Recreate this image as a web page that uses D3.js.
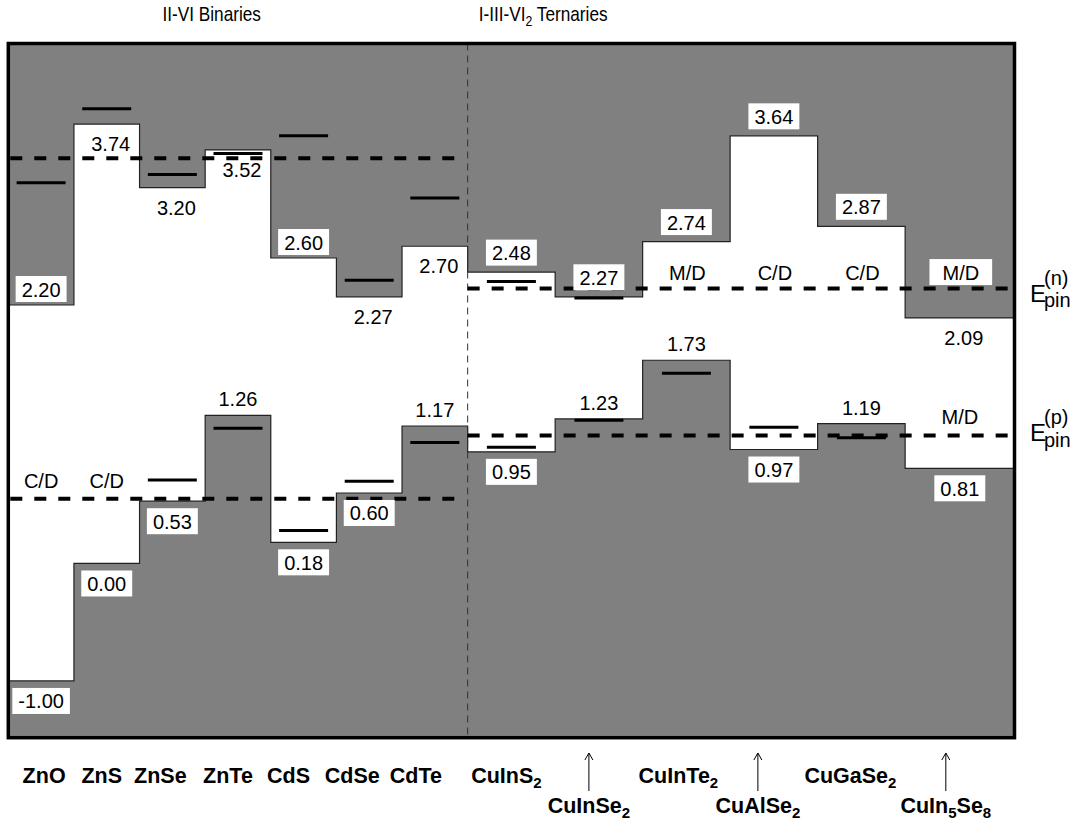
<!DOCTYPE html>
<html><head><meta charset="utf-8">
<script src="https://cdn.jsdelivr.net/npm/d3@7/dist/d3.min.js"></script>
<style>
body{margin:0;background:#fff}
text{font-family:"Liberation Sans",Arial,Helvetica,sans-serif}
</style>
</head><body>
<svg id="chart" width="1077" height="822"></svg>
<script>
// ---------------- data ----------------
const binaries  = ["ZnO","ZnS","ZnSe","ZnTe","CdS","CdSe","CdTe"];
const ternaries = ["CuInS2","CuInSe2","CuInTe2","CuAlSe2","CuGaSe2","CuIn5Se8"];
const materials = binaries.concat(ternaries);
const cbm    = [2.20, 3.74, 3.20, 3.52, 2.60, 2.27, 2.70, 2.48, 2.27, 2.74, 3.64, 2.87, 2.09];
const vbm    = [-1.00, 0.00, 0.53, 1.26, 0.18, 0.60, 1.17, 0.95, 1.23, 1.73, 0.97, 1.19, 0.81];
const nLevel = [3.24, 3.87, 3.31, 3.49, 3.64, 2.41, 3.11, 2.40, 2.26, null, null, null, null];
const pLevel = [null, null, 0.71, 1.15, 0.28, 0.70, 1.03, 0.99, 1.22, 1.62, 1.16, 1.07, null];
const nNote  = [null,null,null,null,null,null,null,null,null,"M/D","C/D","C/D","M/D"];
const pNote  = ["C/D","C/D",null,null,null,null,null,null,null,null,null,null,"M/D"];
const groupTitles = ["II-VI Binaries","I-III-VI2 Ternaries"];
const pinN = [3.45, 2.34];   // binaries, ternaries
const pinP = [0.55, 1.09];

// ---------------- layout (not data) ----------------
const cbmSide = [1,-1,-1,-1,1,-1,-1,1,1,1,1,1,-1];   // 1: label above step
const vbmSide = [-1,-1,-1,1,-1,-1,1,-1,1,1,-1,1,-1]; // -1: label below step
const nameDx  = [3,-5,-12,-10,-15,-17,-19,-5,-10,-8,-16,-11,-14];
const lowerRow = [false,false,false,false,false,false,false,false,true,false,true,false,true];

const svg = d3.select("#chart");
const x = d3.scaleLinear().domain([0,46]).range([8.3,1014.5]);
const y = d3.scaleLinear().domain([-1.483,4.426]).range([737.7,43.5]);
const nB = binaries.length;
const leftU  = i => i < nB ? 3*i : 3*nB + 4*(i-nB);
const rightU = i => i === materials.length-1 ? 46 : (i < nB ? 3*(i+1) : 3*nB + 4*(i-nB+1));
const cx = i => (x(leftU(i)) + x(rightU(i))) / 2;
const fmt = v => v.toFixed(2);
const GRAY = "#808080";

// background gray
svg.append("rect").attr("x",x(0)).attr("y",y(4.426)).attr("width",x(46)-x(0))
  .attr("height",y(-1.483)-y(4.426)).attr("fill",GRAY);

// white gap region
const pts = materials.map((m,i)=>({u:leftU(i), c:cbm[i], v:vbm[i]}));
pts.push({u:46, c:cbm[cbm.length-1], v:vbm[vbm.length-1]});
svg.append("path").datum(pts)
  .attr("d", d3.area().x(d=>x(d.u)).y0(d=>y(d.v)).y1(d=>y(d.c)).curve(d3.curveStepAfter))
  .attr("fill","#fff");
// step outlines
["c","v"].forEach(k=>{
  svg.append("path").datum(pts)
    .attr("d", d3.line().x(d=>x(d.u)).y(d=>y(d[k])).curve(d3.curveStepAfter))
    .attr("fill","none").attr("stroke","#222").attr("stroke-width",1.2);
});

// divider
svg.append("line").attr("x1",x(3*nB)).attr("x2",x(3*nB)).attr("y1",y(4.426)).attr("y2",y(-1.483))
  .attr("stroke","#333").attr("stroke-width",1).attr("stroke-dasharray","7,5");

// pinning levels
const pinSeg = [[x(0)+2, x(3*nB)-10],[x(3*nB), x(46)]];
[pinN,pinP].forEach(arr=>{
  arr.forEach((v,g)=>{
    svg.append("line").attr("x1",pinSeg[g][0]).attr("x2",pinSeg[g][1])
      .attr("y1",y(v)).attr("y2",y(v))
      .attr("stroke","#000").attr("stroke-width",4).attr("stroke-dasharray","12,12");
  });
});

// short marker levels
[nLevel,pLevel].forEach(arr=>{
  arr.forEach((v,i)=>{
    if(v===null) return;
    svg.append("line").attr("x1",cx(i)-24.5).attr("x2",cx(i)+24.5)
      .attr("y1",y(v)).attr("y2",y(v)).attr("stroke","#000").attr("stroke-width",3);
  });
});

// label helper
function label(txt, xc, base, boxed, padX){
  const g = svg.append("g");
  const t = g.append("text").attr("x",xc).attr("y",base).attr("text-anchor","middle")
    .attr("font-size",20).attr("fill","#000").text(txt);
  if(boxed){
    const bb = t.node().getBBox();
    const p = padX||6;
    g.insert("rect","text").attr("x",bb.x-p).attr("y",base-20.5).attr("width",bb.width+2*p)
      .attr("height",26).attr("fill","#fff");
  }
}

// CBM labels
cbm.forEach((v,i)=>{
  const tern = i >= nB;
  if(cbmSide[i]===1){
    const boxBottom = y(v) - (tern?6.5:3);
    label(fmt(v), cx(i), boxBottom-5.5, true);
  } else {
    label(fmt(v), cx(i)+4, y(v)+27, false);
  }
});
// VBM labels
vbm.forEach((v,i)=>{
  if(vbmSide[i]===-1){
    const boxTop = y(v) + 7;
    label(fmt(v), cx(i), boxTop+20.5, true);
  } else {
    label(fmt(v), cx(i), y(v)-9, false);
  }
});
// notes
nNote.forEach((s,i)=>{
  if(!s) return;
  const g = i < nB ? 0 : 1;
  label(s, cx(i)+1, y(pinN[g])-9, pinN[g] + 0.1 > cbm[i], 13);
});
pNote.forEach((s,i)=>{
  if(!s) return;
  const g = i < nB ? 0 : 1;
  label(s, cx(i), y(pinP[g])-11, pinP[g] + 0.1 < vbm[i], 13);
});

// E_pin labels
function epin(sup, base){
  const g = svg.append("g");
  g.append("text").attr("x",1030).attr("y",base).attr("font-size",24).text("E");
  g.append("text").attr("x",1044).attr("y",base-17).attr("font-size",20).text(sup);
  g.append("text").attr("x",1044).attr("y",base+5.5).attr("font-size",20).text("pin");
}
epin("(n)", y(pinN[1])+13);
epin("(p)", y(pinP[1])+6);

// text with numeric subscripts
function formula(sel, name, subSize, dy){
  const parts = name.split(/(\d+)/).filter(p=>p.length);
  let pending = 0;
  parts.forEach(p=>{
    if(/^\d+$/.test(p)){
      sel.append("tspan").attr("font-size",subSize).attr("dy",dy-pending).text(p);
      pending = dy;
    } else {
      sel.append("tspan").attr("dy",-pending).text(p);
      pending = 0;
    }
  });
}

// group titles (condensed)
const titleX = [x(9.3), x(24.45)];
groupTitles.forEach((s,g)=>{
  const t = svg.append("text")
    .attr("transform",`translate(${titleX[g]},21) scale(0.82,1)`)
    .attr("text-anchor","middle").attr("font-size",21);
  formula(t, s, 15, 5);
});

// material names
materials.forEach((m,i)=>{
  const xc = cx(i) + nameDx[i];
  const base = lowerRow[i] ? 813 : 783;
  const t = svg.append("text").attr("x",xc).attr("y",base).attr("text-anchor","middle")
    .attr("font-size",21.5).attr("font-weight","bold");
  formula(t, m, 15, 5);
  if(lowerRow[i]){
    svg.append("line").attr("x1",xc).attr("x2",xc).attr("y1",753).attr("y2",791)
      .attr("stroke","#000").attr("stroke-width",1);
    svg.append("path").attr("d",`M${xc-4},760L${xc},753L${xc+4},760`)
      .attr("fill","none").attr("stroke","#000").attr("stroke-width",1);
  }
});

// frame
svg.append("rect").attr("x",x(0)).attr("y",y(4.426)).attr("width",x(46)-x(0))
  .attr("height",y(-1.483)-y(4.426)).attr("fill","none").attr("stroke","#000").attr("stroke-width",3.5);
</script>
</body></html>
